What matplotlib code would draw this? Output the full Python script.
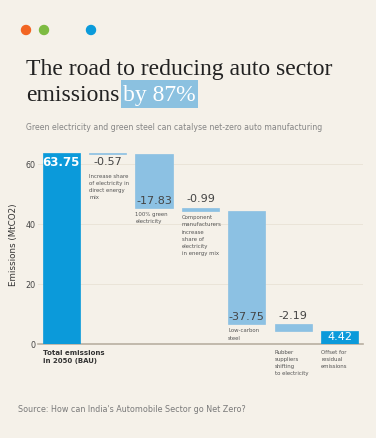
import matplotlib.pyplot as plt
import matplotlib.patches as mpatches
import numpy as np

# data
steps = ["Total emissions\nin 2050 (BAU)",
         "Increase share\nof electricity in\ndirect energy\nmix",
         "100% green\nelectricity",
         "Component\nmanufacturers\nincrease\nshare of\nelectricity\nin energy mix",
         "Low-carbon\nsteel",
         "Rubber\nsuppliers\nshifting\nto electricity",
         "Offset for\nresidual\nemissions"]
changes = [63.75, -0.57, -17.83, -0.99, -37.75, -2.19]
final = 4.42
yticks = [0, 20, 40, 60]

bg = "#F5F1E9"
dark_blue = "#0B9ADA"
light_blue = "#8CC1E3"
txt = "#555555"

fig = plt.figure(figsize=(3.76, 4.38), dpi=100, facecolor=bg)
ax = fig.add_axes([0.101, 0.2146, 0.864, 0.452], facecolor=bg)

# waterfall geometry
x = np.arange(len(steps))
bottoms, heights = [], []
level = 0
for i, c in enumerate(changes):
    if i == 0:
        bottoms.append(0); heights.append(c); level = c
    else:
        level += c
        bottoms.append(level); heights.append(-c)
bottoms.append(0); heights.append(final)
colors = [dark_blue] + [light_blue] * 5 + [dark_blue]

ax.bar(x, heights, bottom=bottoms, width=0.8, color=colors, edgecolor=colors,
       linewidth=0.5, zorder=3)

ax.set_xlim(-0.5, 6.5)
ax.set_ylim(0, 66)
ax.set_yticks(yticks)
ax.set_xticks([])
ax.grid(axis="y", color="#EAE4D8", linewidth=0.7, zorder=0)
for s in ["top", "right", "left"]:
    ax.spines[s].set_visible(False)
ax.spines["bottom"].set_color("#B8B0A2")
ax.spines["bottom"].set_linewidth(1.2)
ax.tick_params(axis="y", length=0, pad=2, labelsize=5.8, labelcolor="#444444")
ax.set_ylabel("Emissions (MtCO2)", fontsize=6.3, color="#333333", labelpad=5)

vals = [changes[0]] + changes[1:] + [final]
for i in range(len(steps)):
    b, h = bottoms[i], heights[i]
    left = x[i] - 0.4
    lab = f"{vals[i]:.2f}"
    desc_y = b
    if i == 0:
        ax.text(x[i], b + h - 1.2, lab, ha="center", va="top", color="white",
                fontsize=8.5, fontweight="bold", zorder=4)
    elif i == 6:
        ax.text(x[i], b + h / 2, lab, ha="center", va="center", color="white",
                fontsize=8, zorder=4)
    elif h > 10:
        ax.text(x[i], b + 0.8, lab, ha="center", va="bottom", color="#444444",
                fontsize=8, zorder=4)
    elif i == 1:
        # label sits just under the thin step at the top
        ax.annotate(lab, (x[i], b), xytext=(0, -1.5), textcoords="offset points",
                    ha="center", va="top", color="#444444", fontsize=8,
                    annotation_clip=False)
        desc_y = b - 5
    else:
        ax.annotate(lab, (x[i], b + h), xytext=(0, 2.5), textcoords="offset points",
                    ha="center", va="bottom", color="#444444", fontsize=8)
    # step description under each bar (or under axis)
    if i == 0:
        ax.annotate(steps[i], (left, 0), xytext=(0, -4), textcoords="offset points",
                    ha="left", va="top", fontsize=5, fontweight="bold",
                    color="#333333", linespacing=1.5, annotation_clip=False)
    elif i >= 5:
        ax.annotate(steps[i], (left, 0), xytext=(0, -4), textcoords="offset points",
                    ha="left", va="top", fontsize=3.9, color=txt,
                    linespacing=1.55, annotation_clip=False)
    else:
        ax.annotate(steps[i], (left, desc_y), xytext=(0, -3), textcoords="offset points",
                    ha="left", va="top", fontsize=3.9, color=txt,
                    linespacing=1.55, annotation_clip=False)

# header dots
for cx, col in [(26, "#F26522"), (44, "#7DBB42"), (91, "#0A9BDB")]:
    fig.patches.append(plt.Circle((cx / 100, (438 - 30) / 100), 4.5 / 100,
                                  transform=fig.dpi_scale_trans, color=col))

serif = "Liberation Serif"
fig.text(26 / 376, 1 - 75 / 438, "The road to reducing auto sector", fontsize=17,
         family=serif, color="#222222", va="baseline")
t2 = fig.text(26 / 376, 1 - 101 / 438, "emissions", fontsize=17,
              family=serif, color="#222222", va="baseline")
fig.canvas.draw()
bb = t2.get_window_extent()
t3 = fig.text((bb.x1 + 4) / 376, 1 - 101 / 438, "by 87%", fontsize=17, family=serif,
              color="white", va="baseline", zorder=3)
fig.canvas.draw()
bb3 = t3.get_window_extent()
base = 438 - 101
fig.patches.append(mpatches.Rectangle((bb3.x0 - 2, base - 7), bb3.width + 4, 28,
                                      transform=None, fc="#8BC1E0", ec="none", zorder=1))

fig.text(26 / 376, 1 - 127 / 438,
         "Green electricity and green steel can catalyse net-zero auto manufacturing",
         fontsize=5.6, color="#858585", va="center")
fig.text(18 / 376, 1 - 410 / 438,
         "Source: How can India's Automobile Sector go Net Zero?",
         fontsize=5.8, color="#7A7A7A", va="center")

fig.savefig("out.png", dpi=100, facecolor=bg)
